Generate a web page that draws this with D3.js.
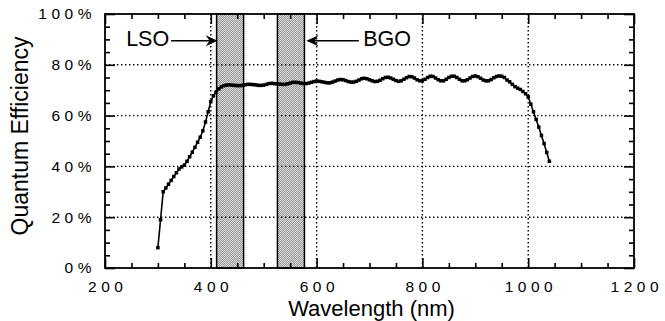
<!DOCTYPE html>
<html>
<head>
<meta charset="utf-8">
<script src="https://cdn.jsdelivr.net/npm/d3@7"></script>
<style>
  html, body { margin: 0; padding: 0; background: #fff; }
  svg { display: block; }
</style>
</head>
<body>
<svg id="chart" width="665" height="321"></svg>
<script>
// wavelength (nm) and quantum efficiency (%)
const wavelengths = [
  300, 305, 310, 315, 320, 325, 330, 335, 340, 345, 350, 355, 360, 365, 370, 375, 380, 385, 390, 395,
  400, 405, 410, 415, 420, 425, 430, 435, 440, 445, 450, 455, 460, 465, 470, 475, 480, 485, 490, 495,
  500, 505, 510, 515, 520, 525, 530, 535, 540, 545, 550, 555, 560, 565, 570, 575, 580, 585, 590, 595,
  600, 605, 610, 615, 620, 625, 630, 635, 640, 645, 650, 655, 660, 665, 670, 675, 680, 685, 690, 695,
  700, 705, 710, 715, 720, 725, 730, 735, 740, 745, 750, 755, 760, 765, 770, 775, 780, 785, 790, 795,
  800, 805, 810, 815, 820, 825, 830, 835, 840, 845, 850, 855, 860, 865, 870, 875, 880, 885, 890, 895,
  900, 905, 910, 915, 920, 925, 930, 935, 940, 945, 950, 955, 960, 965, 970, 975, 980, 985, 990, 995,
  1000, 1005, 1010, 1015, 1020, 1025, 1030, 1035, 1040
];
const efficiency = [
  8, 19, 30, 31.5, 33, 34.5, 36, 37.5, 39, 39.8, 40.5, 42, 43.8, 45.6, 47.5, 49.5, 51.5, 54, 57.5, 61.5,
  65.5, 67.8, 69.3, 70.5, 71.3, 71.8, 72.0, 72.1, 72.0, 71.9, 71.8, 71.8, 71.9, 72.1, 72.3, 72.3, 72.2, 72.1, 71.9, 71.9,
  72.0, 72.3, 72.6, 72.7, 72.6, 72.5, 72.4, 72.3, 72.3, 72.5, 72.8, 73.1, 73.1, 73.0, 72.8, 72.6, 72.6, 72.8, 73.1, 73.4,
  73.6, 73.5, 73.3, 73.1, 72.9, 72.9, 73.2, 73.6, 74.0, 74.2, 74.1, 73.8, 73.4, 73.2, 73.2, 73.5, 74.0, 74.5, 74.7, 74.5,
  74.1, 73.7, 73.4, 73.5, 73.9, 74.5, 75.0, 75.1, 74.8, 74.3, 73.8, 73.5, 73.7, 74.3, 74.9, 75.4, 75.3, 74.8, 74.1, 73.7,
  73.7, 74.3, 75.0, 75.5, 75.4, 74.8, 74.1, 73.7, 73.7, 74.3, 75.0, 75.5, 75.5, 75.0, 74.3, 73.7, 73.7, 74.1, 74.8, 75.4,
  75.6, 75.3, 74.7, 74.0, 73.7, 73.7, 74.2, 74.9, 75.4, 75.6, 75.5, 75.0, 74.0, 73.3, 72.3, 71.4, 70.8, 70.3, 69.5, 68.6,
  67.4, 64.5, 61.5, 58.5, 55.5, 52.2, 49, 45.5, 42
];

// scintillator emission bands (nm)
const bandNames = ["LSO", "BGO"];
const bandStart = [411, 526];
const bandEnd = [462, 577];

const xMajorTicks = [200, 400, 600, 800, 1000, 1200];
const xMinorTicks = [250, 300, 350, 450, 500, 550, 650, 700, 750, 850, 900, 950, 1050, 1100, 1150];
const yMajorTicks = [0, 20, 40, 60, 80, 100];
const yMinorTicks = [5, 10, 15, 25, 30, 35, 45, 50, 55, 65, 70, 75, 85, 90, 95];
const xGridTicks = [400, 600, 800, 1000];
const yGridTicks = [20, 40, 60, 80];

const svg = d3.select("#chart"),
    margin = {top: 14, right: 31, bottom: 53, left: 105},
    width = +svg.attr("width") - margin.left - margin.right,
    height = +svg.attr("height") - margin.top - margin.bottom,
    g = svg.append("g").attr("transform", "translate(" + margin.left + "," + margin.top + ")");

const font = "'Liberation Sans', Arial, Helvetica, sans-serif";

const x = d3.scaleLinear().domain([200, 1200]).range([0, width]);
const y = d3.scaleLinear().domain([0, 100]).range([height, 0]);

// stipple for the bands
const defs = svg.append("defs");
const pat = defs.append("pattern")
    .attr("id", "stipple")
    .attr("patternUnits", "userSpaceOnUse")
    .attr("width", 2).attr("height", 2);
pat.append("rect").attr("width", 2).attr("height", 2).attr("fill", "#dcdcdc");
pat.append("rect").attr("width", 1).attr("height", 1).attr("fill", "#979797");
pat.append("rect").attr("x", 1).attr("y", 1).attr("width", 1).attr("height", 1).attr("fill", "#979797");

g.append("g").selectAll("rect")
    .data(bandNames)
    .enter().append("rect")
    .attr("x", (d, i) => x(bandStart[i]))
    .attr("y", 0)
    .attr("width", (d, i) => x(bandEnd[i]) - x(bandStart[i]))
    .attr("height", height)
    .attr("fill", "url(#stipple)")
    .attr("stroke", "#000")
    .attr("stroke-width", 1.5);

// dotted grid
g.append("g").selectAll("line")
    .data(xGridTicks)
    .enter().append("line")
    .attr("x1", d => x(d)).attr("x2", d => x(d))
    .attr("y1", 0).attr("y2", height)
    .attr("stroke", "#000").attr("stroke-width", 1.4)
    .attr("stroke-dasharray", "1.4,2.6");
g.append("g").selectAll("line")
    .data(yGridTicks)
    .enter().append("line")
    .attr("x1", 0).attr("x2", width)
    .attr("y1", d => y(d)).attr("y2", d => y(d))
    .attr("stroke", "#000").attr("stroke-width", 1.4)
    .attr("stroke-dasharray", "1.4,2.6");

// inward ticks on all four sides
function tickAxis(axis, ticks, size, transform) {
    const a = g.append("g")
        .attr("transform", transform)
        .call(axis.tickValues(ticks).tickSize(-size).tickFormat(""));
    a.select(".domain").remove();
    a.selectAll("line").attr("stroke", "#000").attr("stroke-width", 1.6);
    return a;
}
tickAxis(d3.axisBottom(x), xMajorTicks, 10, "translate(0," + height + ")");
tickAxis(d3.axisBottom(x), xMinorTicks, 5, "translate(0," + height + ")");
tickAxis(d3.axisTop(x), xMajorTicks, 10, "translate(0,0)");
tickAxis(d3.axisTop(x), xMinorTicks, 5, "translate(0,0)");
tickAxis(d3.axisLeft(y), yMajorTicks, 10, "translate(0,0)");
tickAxis(d3.axisLeft(y), yMinorTicks, 5, "translate(0,0)");
tickAxis(d3.axisRight(y), yMajorTicks, 10, "translate(" + width + ",0)");
tickAxis(d3.axisRight(y), yMinorTicks, 5, "translate(" + width + ",0)");

// tick labels
const ls = 4.5;
const xLab = g.append("g")
    .attr("transform", "translate(0," + height + ")")
    .call(d3.axisBottom(x).tickValues(xMajorTicks).tickSize(0).tickPadding(13)
        .tickFormat(d3.format("d")));
xLab.select(".domain").remove();
xLab.selectAll("text")
    .attr("font-family", font).attr("font-size", 15.5)
    .attr("fill", "#000")
    .attr("letter-spacing", ls)
    .attr("dx", ls / 2);

const yLab = g.append("g")
    .call(d3.axisLeft(y).tickValues(yMajorTicks).tickSize(0).tickPadding(9)
        .tickFormat(d => d + "%"));
yLab.select(".domain").remove();
yLab.selectAll("text")
    .attr("font-family", font).attr("font-size", 15.5)
    .attr("fill", "#000")
    .attr("letter-spacing", ls);

// the curve
const pts = wavelengths.map((w, i) => [w, efficiency[i]]);
g.append("path")
    .datum(pts)
    .attr("fill", "none")
    .attr("stroke", "#000")
    .attr("stroke-width", 1.6)
    .attr("d", d3.line().x(d => x(d[0])).y(d => y(d[1])));
g.append("g").selectAll("rect")
    .data(pts)
    .enter().append("rect")
    .attr("x", d => x(d[0]) - 1.75)
    .attr("y", d => y(d[1]) - 1.75)
    .attr("width", 3.5).attr("height", 3.5)
    .attr("fill", "#000");

// frame
g.append("rect")
    .attr("width", width).attr("height", height)
    .attr("fill", "none").attr("stroke", "#000").attr("stroke-width", 1.8);

// band labels with arrows
function arrowHead(tipX, tipY, dir) {
    // dir = 1 points right, -1 points left
    const p = d3.path();
    p.moveTo(tipX, tipY);
    p.lineTo(tipX - dir * 12, tipY - 5.5);
    p.lineTo(tipX - dir * 8, tipY);
    p.lineTo(tipX - dir * 12, tipY + 5.5);
    p.closePath();
    return p.toString();
}
const arrowY = y(89.5);
const labels = g.append("g").attr("font-family", font).attr("font-size", 21.5).attr("fill", "#000");
labels.append("text")
    .attr("x", x(240)).attr("y", y(87.3))
    .text(bandNames[0]);
g.append("line")
    .attr("x1", x(325)).attr("x2", x(bandStart[0]) - 4)
    .attr("y1", arrowY).attr("y2", arrowY)
    .attr("stroke", "#000").attr("stroke-width", 1.5);
g.append("path").attr("d", arrowHead(x(bandStart[0]) + 1, arrowY, 1)).attr("fill", "#000");

labels.append("text")
    .attr("x", x(688)).attr("y", y(87.3))
    .text(bandNames[1]);
g.append("line")
    .attr("x1", x(680)).attr("x2", x(bandEnd[1]) + 4)
    .attr("y1", arrowY).attr("y2", arrowY)
    .attr("stroke", "#000").attr("stroke-width", 1.5);
g.append("path").attr("d", arrowHead(x(bandEnd[1]) + 2, arrowY, -1)).attr("fill", "#000");

// axis titles
svg.append("text")
    .attr("x", margin.left + x(700) + 2)
    .attr("y", 316)
    .attr("text-anchor", "middle")
    .attr("font-family", font).attr("font-size", 22)
    .attr("fill", "#000")
    .text("Wavelength (nm)");
svg.append("text")
    .attr("transform", "translate(28," + 136 + ") rotate(-90)")
    .attr("text-anchor", "middle")
    .attr("font-family", font).attr("font-size", 23)
    .attr("fill", "#000")
    .text("Quantum Efficiency");
</script>
</body>
</html>
